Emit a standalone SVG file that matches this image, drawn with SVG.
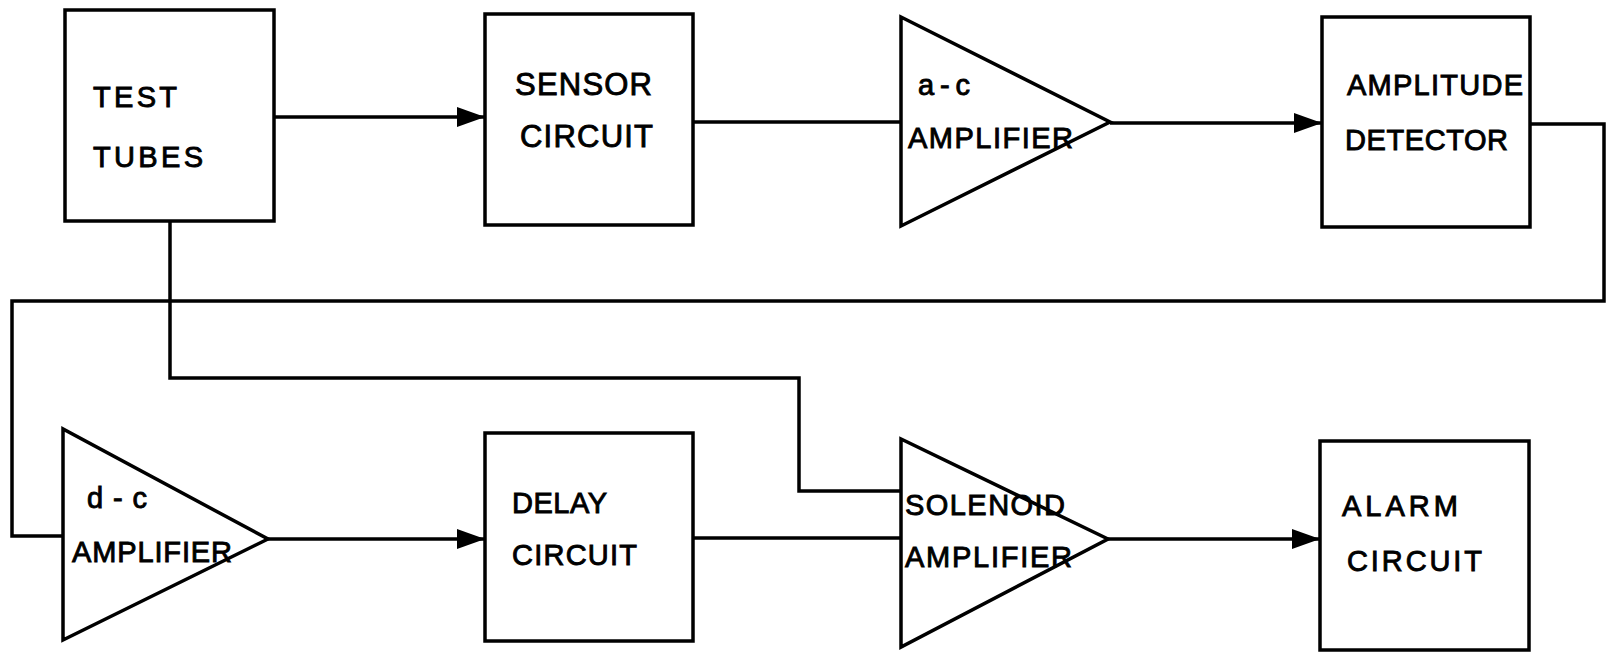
<svg xmlns="http://www.w3.org/2000/svg" width="1612" height="653" viewBox="0 0 1612 653">
<style>
.shape{fill:none;stroke:#000;stroke-width:3.5;stroke-linejoin:miter}
.wire{fill:none;stroke:#000;stroke-width:3.5}
.lbl{font-family:"Liberation Sans",Arial,sans-serif;font-size:29px;fill:#000;stroke:#000;stroke-width:0.9}
</style>
<defs>
<marker id="arr" markerUnits="userSpaceOnUse" markerWidth="30" markerHeight="22" refX="28" refY="10" orient="auto">
<path d="M0,0 L28,10 L0,20 z" fill="#000"/>
</marker>
</defs>
<rect width="1612" height="653" fill="#fff"/>
<g id="connectors">
<line class="wire" x1="274" y1="117" x2="485" y2="117" marker-end="url(#arr)"/>
<line class="wire" x1="693" y1="122" x2="901" y2="122"/>
<line class="wire" x1="1110" y1="123" x2="1322" y2="123" marker-end="url(#arr)"/>
<polyline class="wire" points="1530,124 1604,124 1604,301 12,301 12,536 63,536"/>
<polyline class="wire" points="170,221 170,378 799,378 799,491 901,491"/>
<line class="wire" x1="268" y1="539" x2="485" y2="539" marker-end="url(#arr)"/>
<line class="wire" x1="693" y1="538" x2="901" y2="538"/>
<line class="wire" x1="1108" y1="539" x2="1320" y2="539" marker-end="url(#arr)"/>
</g>
<g id="test-tubes">
<rect class="shape" x="65" y="10" width="209" height="211"/>
<text class="lbl" x="93" y="107" textLength="84" lengthAdjust="spacing">TEST</text>
<text class="lbl" x="93" y="167" textLength="110" lengthAdjust="spacing">TUBES</text>
</g>
<g id="sensor-circuit">
<rect class="shape" x="485" y="14" width="208" height="211"/>
<text class="lbl" x="515" y="95" style="font-size:31px" textLength="137" lengthAdjust="spacing">SENSOR</text>
<text class="lbl" x="520" y="147" style="font-size:31px" textLength="133" lengthAdjust="spacing">CIRCUIT</text>
</g>
<g id="ac-amplifier">
<polygon class="shape" points="901,17 901,226 1110,122"/>
<text class="lbl" x="918" y="95" textLength="52" lengthAdjust="spacing">a-c</text>
<text class="lbl" x="908" y="148" textLength="165" lengthAdjust="spacing">AMPLIFIER</text>
</g>
<g id="amplitude-detector">
<rect class="shape" x="1322" y="17" width="208" height="210"/>
<text class="lbl" x="1347" y="95" textLength="176" lengthAdjust="spacing">AMPLITUDE</text>
<text class="lbl" x="1345" y="150" textLength="163" lengthAdjust="spacing">DETECTOR</text>
</g>
<g id="dc-amplifier">
<polygon class="shape" points="63,429 63,640 268,539"/>
<text class="lbl" x="87" y="508" textLength="60" lengthAdjust="spacing">d-c</text>
<text class="lbl" x="72" y="562" textLength="160" lengthAdjust="spacing">AMPLIFIER</text>
</g>
<g id="delay-circuit">
<rect class="shape" x="485" y="433" width="208" height="208"/>
<text class="lbl" x="512" y="513" textLength="95" lengthAdjust="spacing">DELAY</text>
<text class="lbl" x="512" y="565" textLength="125" lengthAdjust="spacing">CIRCUIT</text>
</g>
<g id="solenoid-amplifier">
<polygon class="shape" points="901,439 901,647 1108,539"/>
<text class="lbl" x="905" y="515" textLength="160" lengthAdjust="spacing">SOLENOID</text>
<text class="lbl" x="905" y="567" textLength="167" lengthAdjust="spacing">AMPLIFIER</text>
</g>
<g id="alarm-circuit">
<rect class="shape" x="1320" y="441" width="209" height="209"/>
<text class="lbl" x="1342" y="516" textLength="116" lengthAdjust="spacing">ALARM</text>
<text class="lbl" x="1347" y="571" textLength="135" lengthAdjust="spacing">CIRCUIT</text>
</g>
</svg>
